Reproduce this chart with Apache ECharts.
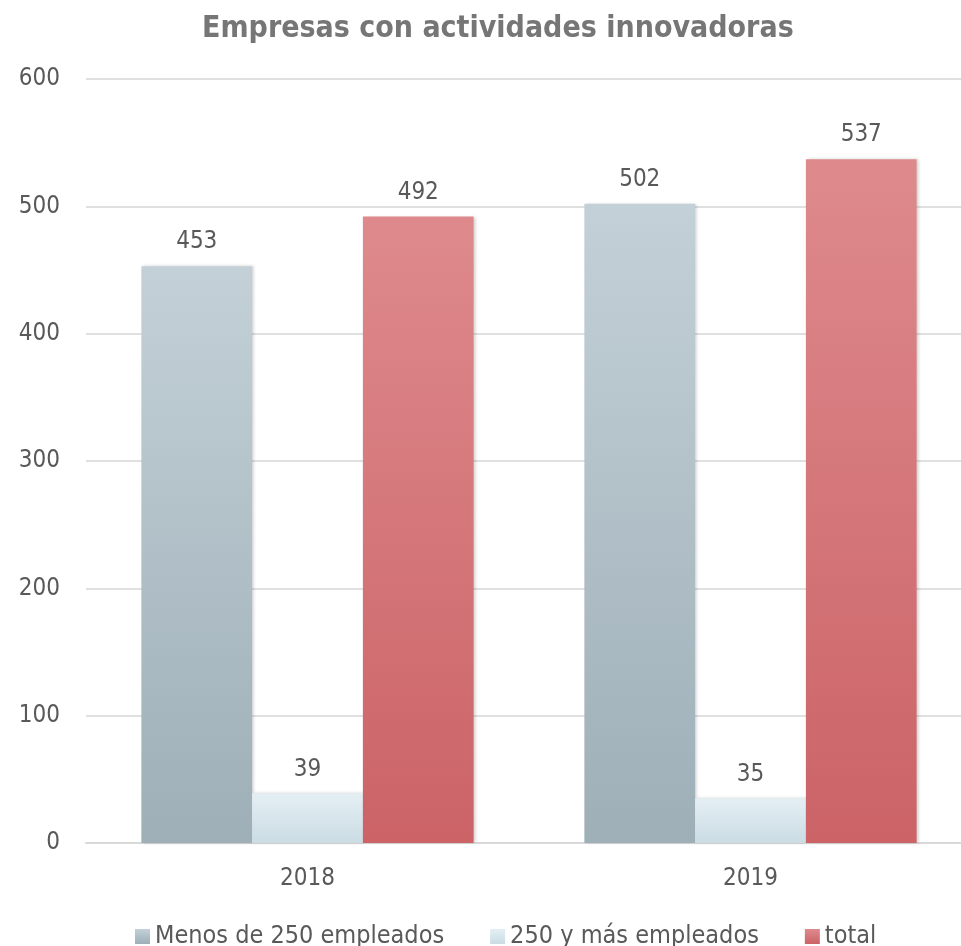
<!DOCTYPE html>
<html>
<head>
<meta charset="utf-8">
<script src="https://cdn.jsdelivr.net/npm/echarts@6/dist/echarts.min.js"></script>
<style>
  html, body { margin: 0; padding: 0; background: #fff; }
  #main { width: 961px; height: 946px; }
</style>
</head>
<body>
<div id="main"></div>
<script>
// datos del gráfico
const years = ['2018', '2019'];
const menos250 = [453, 502];
const mas250 = [39, 35];
const total = [492, 537];
const seriesNames = ['Menos de 250 empleados', '250 y más empleados', 'total'];

const FONT = '"Liberation Sans Narrow", "DejaVu Sans Condensed", sans-serif';

function grad(top, bottom) {
  return new echarts.graphic.LinearGradient(0, 0, 0, 1, [
    { offset: 0, color: top },
    { offset: 1, color: bottom }
  ]);
}

const myChart = echarts.init(document.getElementById('main'));

const labelStyle = {
  show: true,
  position: 'top',
  distance: 12,
  color: '#595959',
  fontSize: 24,
  fontFamily: FONT
};

const option = {
  backgroundColor: '#fff',
  animation: false,
  title: {
    text: 'Empresas con actividades innovadoras',
    left: 197,
    top: 9,
    textStyle: { color: '#767676', fontSize: 30, fontWeight: 'bold', fontFamily: FONT }
  },
  legend: {
    data: seriesNames,
    bottom: -8,
    left: 130,
    itemWidth: 15,
    itemHeight: 15,
    itemGap: 46,
    icon: 'rect',
    textStyle: { color: '#595959', fontSize: 25, fontFamily: FONT }
  },
  // el área del gráfico sobresale un poco por la derecha, como en el original
  grid: { left: 86, right: -11, top: 79, bottom: 103, outerBoundsMode: 'none', containLabel: false },
  xAxis: {
    type: 'category',
    data: years,
    axisLine: { lineStyle: { color: '#d9d9d9', width: 2 } },
    axisTick: { show: false },
    axisLabel: { color: '#595959', fontSize: 24, fontFamily: FONT, margin: 24 }
  },
  yAxis: {
    type: 'value',
    min: 0,
    max: 600,
    interval: 100,
    axisLine: { show: false },
    axisTick: { show: false },
    splitLine: { lineStyle: { color: '#e0e0e0', width: 2 } },
    axisLabel: { color: '#595959', fontSize: 24, fontFamily: FONT, margin: 26 }
  },
  series: [
    {
      name: seriesNames[0],
      type: 'bar',
      data: menos250,
      barGap: '0%',
      barCategoryGap: '25%',
      itemStyle: { color: grad('#c3d0d7', '#9eafb7'), shadowColor: 'rgba(0,0,0,0.18)', shadowBlur: 3, shadowOffsetX: 2 },
      label: labelStyle
    },
    {
      name: seriesNames[1],
      type: 'bar',
      data: mas250,
      itemStyle: { color: grad('#e4eff4', '#cbdce4'), shadowColor: 'rgba(0,0,0,0.15)', shadowBlur: 3, shadowOffsetX: 2 },
      label: labelStyle
    },
    {
      name: seriesNames[2],
      type: 'bar',
      data: total,
      itemStyle: { color: grad('#de8a8d', '#cb6367'), shadowColor: 'rgba(0,0,0,0.18)', shadowBlur: 3, shadowOffsetX: 2 },
      label: labelStyle
    }
  ]
};

myChart.setOption(option);
</script>
</body>
</html>
